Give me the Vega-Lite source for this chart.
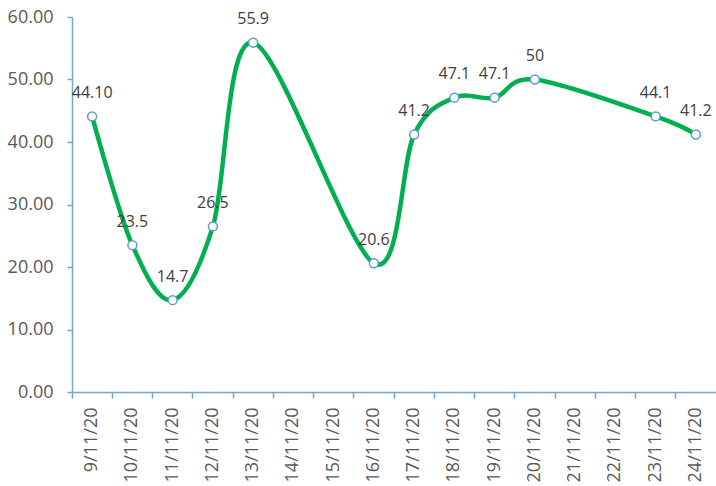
{
  "$schema": "https://vega.github.io/schema/vega-lite/v6.json",
  "width": 644,
  "height": 375,
  "autosize": {"type": "none"},
  "padding": {"left": 72, "top": 17, "right": 0, "bottom": 94},
  "background": "white",
  "config": {"view": {"stroke": null}, "font": "Open Sans"},
  "data": {
    "values": [
      {"date": "9/11/20", "value": 44.1, "label": "44.10"},
      {"date": "10/11/20", "value": 23.5, "label": "23.5"},
      {"date": "11/11/20", "value": 14.7, "label": "14.7"},
      {"date": "12/11/20", "value": 26.5, "label": "26.5"},
      {"date": "13/11/20", "value": 55.9, "label": "55.9"},
      {"date": "16/11/20", "value": 20.6, "label": "20.6"},
      {"date": "17/11/20", "value": 41.2, "label": "41.2"},
      {"date": "18/11/20", "value": 47.1, "label": "47.1"},
      {"date": "19/11/20", "value": 47.1, "label": "47.1"},
      {"date": "20/11/20", "value": 50, "label": "50"},
      {"date": "23/11/20", "value": 44.1, "label": "44.1"},
      {"date": "24/11/20", "value": 41.2, "label": "41.2"}
    ]
  },
  "encoding": {
    "x": {
      "field": "date",
      "type": "ordinal",
      "sort": null,
      "scale": {
        "type": "band",
        "domain": ["9/11/20", "10/11/20", "11/11/20", "12/11/20", "13/11/20", "14/11/20", "15/11/20", "16/11/20", "17/11/20", "18/11/20", "19/11/20", "20/11/20", "21/11/20", "22/11/20", "23/11/20", "24/11/20"],
        "paddingInner": 0,
        "paddingOuter": 0
      },
      "axis": {
        "title": null,
        "labelAngle": -90,
        "bandPosition": 0,
        "tickSize": 6,
        "tickWidth": 1.5,
        "domainWidth": 1.5,
        "domainColor": "#6FA6DC",
        "tickColor": "#6FA6DC",
        "labelColor": "#595959",
        "labelFont": "Open Sans",
        "labelFontSize": 18,
        "labelPadding": 9,
        "labelOverlap": false,
        "grid": false
      }
    },
    "y": {
      "field": "value",
      "type": "quantitative",
      "scale": {"domain": [0, 60], "nice": false},
      "axis": {
        "title": null,
        "values": [0, 10, 20, 30, 40, 50, 60],
        "format": ".2f",
        "grid": false,
        "tickSize": 5,
        "tickWidth": 1.5,
        "domainWidth": 1.5,
        "domainColor": "#6FA6DC",
        "tickColor": "#6FA6DC",
        "labelColor": "#595959",
        "labelFont": "Open Sans",
        "labelFontSize": 18,
        "labelPadding": 14,
        "labelOverlap": false
      }
    }
  },
  "layer": [
    {
      "mark": {"type": "line", "interpolate": "cardinal", "color": "#00B050", "strokeWidth": 4.5}
    },
    {
      "mark": {"type": "point", "shape": "circle", "filled": true, "fill": "white", "stroke": "#5B9BD5", "strokeWidth": 1.5, "size": 80, "opacity": 1}
    },
    {
      "mark": {"type": "text", "align": "center", "baseline": "alphabetic", "dy": -18.5, "font": "Open Sans", "fontSize": 16, "color": "#404040"},
      "encoding": {"text": {"field": "label"}}
    }
  ]
}
